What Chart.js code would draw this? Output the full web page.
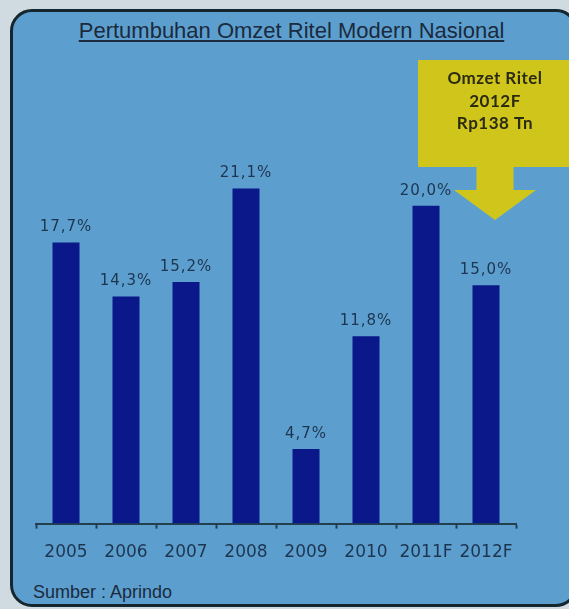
<!DOCTYPE html>
<html>
<head>
<meta charset="utf-8">
<script src="https://cdn.jsdelivr.net/npm/chart.js@4"></script>
<style>
  html, body { margin: 0; padding: 0; }
  body {
    width: 569px; height: 609px; overflow: hidden;
    background: #cfdae1; position: relative;
  }
  .panel {
    position: absolute; left: 10px; top: 9px; width: 562px; height: 592px;
    background: #5c9fcf;
    border: 3px solid #16262e; border-radius: 22px;
  }
  .title {
    position: absolute; left: 0; width: 583px; top: 18px; text-align: center;
    font: 22px "Liberation Sans", Arial, sans-serif; color: #1b2a3c;
    text-decoration: underline;
  }
  .source {
    position: absolute; left: 33px; top: 582px;
    font: 18px "Liberation Sans", Arial, sans-serif; color: #1b2a3c;
  }
  #wrap { position: absolute; left: 0; top: 0; width: 569px; height: 609px; }
</style>
</head>
<body>
<div class="panel"></div>
<div class="title">Pertumbuhan Omzet Ritel Modern Nasional</div>
<div class="source">Sumber : Aprindo</div>
<div id="wrap"><canvas id="chart"></canvas></div>

<script>
/* ---- données ---- */
const YEARS  = ['2005', '2006', '2007', '2008', '2009', '2010', '2011F', '2012F'];
const GROWTH = [17.7, 14.3, 15.2, 21.1, 4.7, 11.8, 20.0, 15.0];
const CALLOUT_LINES = ['Omzet Ritel', '2012F', 'Rp138 Tn'];
const CALLOUT_INDEX = 7;   // barre visée par la flèche

const BAR_COLOR   = '#0b1889';
const TEXT_COLOR  = '#1e3550';
const AXIS_COLOR  = '#23404f';
const ARROW_COLOR = '#d0c61b';

const fmt = v => v.toFixed(1).replace('.', ',') + '%';

/* étiquettes au-dessus des barres */
const valueLabels = {
  id: 'valueLabels',
  afterDatasetsDraw(chart) {
    const ctx = chart.ctx;
    const meta = chart.getDatasetMeta(0);
    ctx.save();
    ctx.font = '15px "DejaVu Sans", sans-serif';
    ctx.letterSpacing = '1px';
    ctx.fillStyle = TEXT_COLOR;
    ctx.textAlign = 'center';
    ctx.textBaseline = 'alphabetic';
    meta.data.forEach((bar, i) => {
      ctx.fillText(fmt(GROWTH[i]), bar.x, bar.y - 11);
    });
    ctx.restore();
  }
};

/* encadré jaune + flèche au-dessus de 2012F */
const callout = {
  id: 'callout',
  afterDraw(chart) {
    const ctx = chart.ctx;
    const cx = chart.scales.x.getPixelForValue(CALLOUT_INDEX) + 9;
    const top = chart.chartArea.top + 13;
    const boxW = 154, boxH = 107, shaftW = 37, shaftH = 23, headW = 82, headH = 30;
    const boxBottom = top + boxH;
    ctx.save();
    ctx.fillStyle = ARROW_COLOR;
    ctx.fillRect(cx - boxW / 2, top, boxW, boxH);
    ctx.fillRect(cx - shaftW / 2, boxBottom - 1, shaftW, shaftH + 1);
    ctx.beginPath();
    ctx.moveTo(cx - headW / 2, boxBottom + shaftH);
    ctx.lineTo(cx + headW / 2, boxBottom + shaftH);
    ctx.lineTo(cx, boxBottom + shaftH + headH);
    ctx.closePath();
    ctx.fill();

    ctx.font = 'bold 17px Lato, sans-serif';
    ctx.letterSpacing = '0.5px';
    ctx.fillStyle = '#2b2a12';
    ctx.textAlign = 'center';
    ctx.textBaseline = 'middle';
    CALLOUT_LINES.forEach((t, i) => ctx.fillText(t, cx, top + 19 + i * 22.5));
    ctx.restore();
  }
};

new Chart(document.getElementById('chart'), {
  type: 'bar',
  data: {
    labels: YEARS,
    datasets: [{
      data: GROWTH,
      backgroundColor: BAR_COLOR,
      barPercentage: 0.9,
      categoryPercentage: 0.5,
    }]
  },
  options: {
    responsive: true,
    maintainAspectRatio: false,
    animation: false,
    layout: { padding: { left: 36, right: 53, top: 47, bottom: 32 } },
    plugins: {
      legend: { display: false },
      tooltip: { enabled: false },
    },
    scales: {
      x: {
        grid: {
          offset: true,
          drawOnChartArea: false,
          drawTicks: true,
          tickLength: 5,
          color: AXIS_COLOR,
          tickWidth: 2,
        },
        border: { color: AXIS_COLOR, width: 2 },
        ticks: {
          color: TEXT_COLOR,
          font: { family: '"DejaVu Sans"', size: 17 },
          padding: 14,
          maxRotation: 0,
        },
      },
      y: {
        display: false,
        min: 0,
        max: 30,
      },
    },
  },
  plugins: [valueLabels, callout],
});
</script>
</body>
</html>
